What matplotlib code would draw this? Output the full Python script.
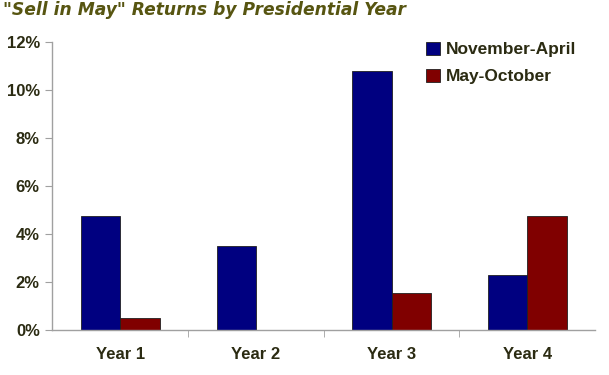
import matplotlib
matplotlib.use("Agg")
import matplotlib.pyplot as plt
import numpy as np
from matplotlib.ticker import FuncFormatter, FixedLocator

categories = ["Year 1", "Year 2", "Year 3", "Year 4"]
nov_apr = [4.75, 3.48, 10.8, 2.28]
may_oct = [0.52, 0.0, 1.55, 4.75]
series_names = ["November-April", "May-October"]
yticks = [0, 2, 4, 6, 8, 10, 12]

blue = "#000080"
red = "#800000"
text_col = "#2b2b12"
title_col = "#575511"

fig = plt.figure(figsize=(6.09, 3.75), dpi=100)
ax = fig.add_axes([0.086, 0.12, 0.891, 0.768])

x = np.arange(len(categories))
w = 0.29
ax.bar(x - w / 2, nov_apr, w, color=blue, edgecolor="#202020", linewidth=0.6, label=series_names[0])
ax.bar(x + w / 2, may_oct, w, color=red, edgecolor="#202020", linewidth=0.6, label=series_names[1])

ax.set_xlim(-0.5, len(categories) - 0.5)
ax.set_ylim(0, 12)
ax.set_yticks(yticks)
ax.yaxis.set_major_formatter(FuncFormatter(lambda v, p: f"{int(v)}%"))
ax.set_xticks(x)
ax.set_xticklabels(categories)
ax.xaxis.set_minor_locator(FixedLocator([0.5, 1.5, 2.5]))

for s in ["top", "right"]:
    ax.spines[s].set_visible(False)
for s in ["left", "bottom"]:
    ax.spines[s].set_color("#a0a0a0")
    ax.spines[s].set_linewidth(1.0)

ax.tick_params(axis="y", length=5, color="#a0a0a0", pad=4,
               labelsize=12, labelcolor=text_col)
ax.tick_params(axis="x", which="major", length=0, pad=12,
               labelsize=12, labelcolor=text_col)
ax.tick_params(axis="x", which="minor", length=5, color="#a0a0a0")
for lab in ax.get_xticklabels() + ax.get_yticklabels():
    lab.set_fontweight("bold")
    lab.set_family("Liberation Sans")

leg = ax.legend(loc="upper left", bbox_to_anchor=(0.66, 1.055), frameon=False,
                prop={"family": "Liberation Sans", "weight": "bold", "size": 12.5},
                handlelength=0.8, handleheight=0.8, handletextpad=0.35,
                labelspacing=0.65, labelcolor=text_col)

fig.text(0.005, 0.997, "\"Sell in May\" Returns by Presidential Year",
         ha="left", va="top", fontsize=12.3, fontweight="bold", fontstyle="italic",
         color=title_col, family="DejaVu Sans")

fig.savefig("out.png", dpi=100, facecolor="white")
